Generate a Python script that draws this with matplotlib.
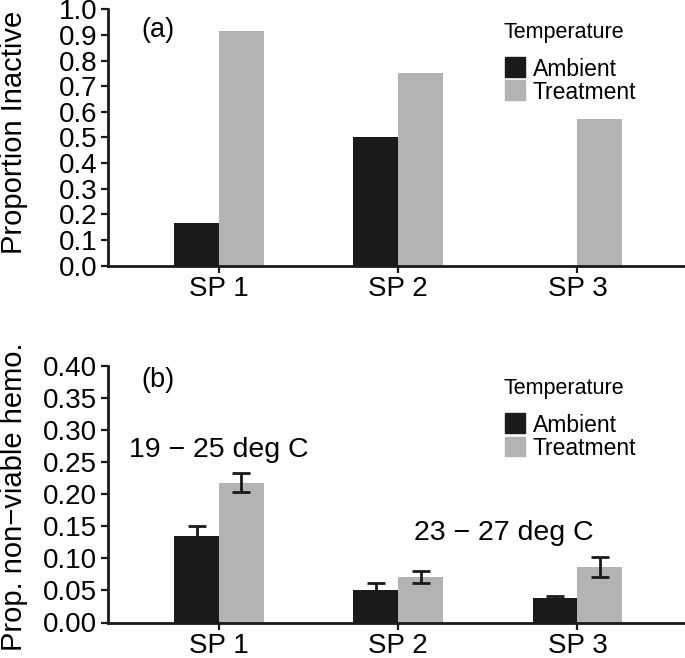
#!/usr/bin/env python3

import numpy as np
import matplotlib
matplotlib.use('Agg')
import matplotlib.pyplot as plt
from matplotlib.patches import Rectangle

# data
species = ['SP 1', 'SP 2', 'SP 3']
groups = ['Ambient', 'Treatment']

inactive_amb = [0.167, 0.50, 0.0]
inactive_trt = [0.917, 0.75, 0.571]

hemo_amb = [0.134, 0.050, 0.038]
hemo_amb_err = [0.017, 0.0115, 0.004]
hemo_trt = [0.218, 0.071, 0.086]
hemo_trt_err = [0.0145, 0.009, 0.0157]

ranges = ['19 \u2212 25 deg C', '23 \u2212 27 deg C']

col_amb = '#1a1a1a'
col_trt = '#b3b3b3'
colors = [col_amb, col_trt]

plt.rcParams['font.family'] = ['Liberation Sans', 'DejaVu Sans']

W, H = 685, 658
fig = plt.figure(figsize=(W / 100, H / 100), dpi=100)
axa = fig.add_axes([108 / W, 1 - 265.5 / H, 577 / W, 256.2 / H])
axb = fig.add_axes([108 / W, 1 - 622.5 / H, 577 / W, 256.8 / H])

x = np.arange(1, len(species) + 1)
w = 0.25


def style(ax):
    for s in ('top', 'right'):
        ax.spines[s].set_visible(False)
    for s in ('left', 'bottom'):
        ax.spines[s].set_linewidth(2.0)
        ax.spines[s].set_color('#1a1a1a')
    ax.tick_params(axis='both', width=1.6, length=4.7, color='#1a1a1a',
                   labelsize=20, pad=3)
    ax.set_xticks(x)
    ax.set_xticklabels(species)
    ax.set_xlim(0.38, 3.6)


def legend(top):
    # hand-made legend, positions in picture pixels (top = first key top)
    fig.text(503 / W, 1 - (top - 19) / H, 'Temperature', fontsize=15.5,
             ha='left', va='baseline')
    for i, (g, c) in enumerate(zip(groups, colors)):
        y0 = top + i * 23.5
        fig.patches.append(Rectangle((505 / W, 1 - (y0 + 19.5) / H),
                                     19.5 / W, 19.5 / H, color=c,
                                     transform=fig.transFigure))
        fig.text(532.5 / W, 1 - (y0 + 18.5) / H, g, fontsize=16.5,
                 ha='left', va='baseline')


# (a) proportion inactive
axa.bar(x - w / 2, inactive_amb, w, color=col_amb, label=groups[0])
axa.bar(x + w / 2, inactive_trt, w, color=col_trt, label=groups[1])
style(axa)
axa.set_ylim(0, 1.0)
axa.set_yticks(np.arange(0, 1.01, 0.1))
axa.set_yticklabels(['%.1f' % v for v in np.arange(0, 1.01, 0.1)])
axa.set_ylabel('Proportion Inactive', fontsize=21)
axa.yaxis.set_label_coords(-0.138, 0.52)
axa.text(0.058, 0.92, '(a)', transform=axa.transAxes, fontsize=19.5,
         va='center', ha='left')
legend(57)

# (b) non-viable haemocytes
ekw = dict(ecolor='#1a1a1a', elinewidth=2.0, capsize=6.4, capthick=2.0)
axb.bar(x - w / 2, hemo_amb, w, color=col_amb, label=groups[0],
        yerr=hemo_amb_err, error_kw=ekw)
axb.bar(x + w / 2, hemo_trt, w, color=col_trt, label=groups[1],
        yerr=hemo_trt_err, error_kw=ekw)
style(axb)
axb.set_ylim(0, 0.40)
axb.set_yticks(np.arange(0, 0.401, 0.05))
axb.set_yticklabels(['%.2f' % v for v in np.arange(0, 0.401, 0.05)])
axb.set_ylabel('Prop. non\u2212viable hemo.', fontsize=21)
axb.yaxis.set_label_coords(-0.138, 0.49)
axb.text(0.058, 0.945, '(b)', transform=axb.transAxes, fontsize=19.5,
         va='center', ha='left')
axb.text(1.0, 0.269, ranges[0], fontsize=20.5, ha='center', va='center')
axb.text(2.59, 0.140, ranges[1], fontsize=20.5, ha='center', va='center')
legend(413)

fig.savefig('out.png', dpi=100)
